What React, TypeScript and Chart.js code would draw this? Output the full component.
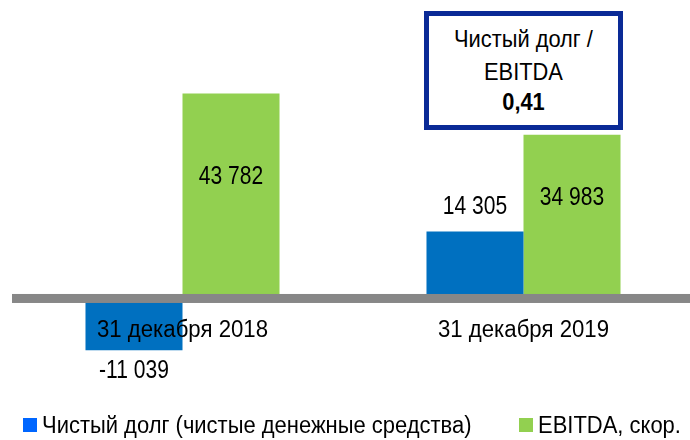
import React, { useEffect, useRef } from "react";
import { Chart, registerables } from "chart.js";

Chart.register(...registerables);

// ---- data ----
const categories = ["31 декабря 2018", "31 декабря 2019"];
const netDebt = [-11039, 14305];
const ebitda = [43782, 34983];
const seriesNames = ["Чистый долг (чистые денежные средства)", "EBITDA, скор."];
const ratioTitle = ["Чистый долг /", "EBITDA"];
const ratioValue = "0,41";

// ---- styles ----
const FONT = '"Liberation Sans", Arial, sans-serif';
const BLUE = "#0070C0";
const GREEN = "#92D050";
const LEGEND_BLUE = "#0066FF";
const GRAY = "#878787";
const NAVY = "#0A2A96";

// horizontal condensing factors for the narrow typeface
const VALUE_SX = 0.81;
const CAT_SX = 0.965;
const LEGEND_SX = 0.955;
const BOX_SX = 0.91;

// label offsets (px) from the bar end, per dataset / per point
const labelOffsets = [
  [21, -25],
  [83, 63],
];

const fmt = (v: number) => {
  const s = Math.abs(v)
    .toString()
    .replace(/\B(?=(\d{3})+(?!\d))/g, " ");
  return (v < 0 ? "-" : "") + s;
};

const drawText = (ctx: CanvasRenderingContext2D, text: string, x: number, y: number, sx: number) => {
  ctx.save();
  ctx.translate(x, y);
  ctx.scale(sx, 1);
  ctx.fillText(text, 0, 0);
  ctx.restore();
};

const overlayPlugin = {
  id: "overlay",
  afterDatasetsDraw(chart: any) {
    const { ctx, chartArea, scales } = chart;
    const x = scales.x;
    const y = scales.y;
    const y0 = y.getPixelForValue(0);
    ctx.save();
    // zero line band
    ctx.fillStyle = GRAY;
    ctx.fillRect(chartArea.left, y0 - 4.5, chart.width - chartArea.left, 9);
    ctx.fillStyle = "#000";
    ctx.textAlign = "center";
    ctx.textBaseline = "middle";
    // category labels
    ctx.font = `23px ${FONT}`;
    categories.forEach((c, i) => {
      drawText(ctx, c, x.getPixelForValue(i), y0 + 32.5, CAT_SX);
    });
    // value labels
    ctx.font = `26px ${FONT}`;
    chart.data.datasets.forEach((ds: any, di: number) => {
      const meta = chart.getDatasetMeta(di);
      meta.data.forEach((el: any, i: number) => {
        drawText(ctx, fmt(ds.data[i]), el.x, el.y + labelOffsets[di][i], VALUE_SX);
      });
    });
    ctx.restore();
  },
};

export default function App() {
  const ref = useRef<HTMLCanvasElement | null>(null);

  useEffect(() => {
    if (!ref.current) return;
    const chart = new Chart(ref.current, {
      type: "bar",
      data: {
        labels: categories,
        datasets: [
          { label: seriesNames[0], data: netDebt, backgroundColor: BLUE, borderWidth: 0 },
          { label: seriesNames[1], data: ebitda, backgroundColor: GREEN, borderWidth: 0 },
        ],
      },
      options: {
        responsive: false,
        animation: false,
        devicePixelRatio: 1,
        layout: { padding: { left: 12, right: 0, top: 17.6, bottom: 47.9 } },
        datasets: {
          bar: { categoryPercentage: 0.569, barPercentage: 1.0 },
        },
        scales: {
          x: { display: false },
          y: { display: false, min: -20000, max: 60000 },
        },
        plugins: {
          legend: { display: false },
          tooltip: { enabled: false },
        },
      },
      plugins: [overlayPlugin],
    });
    return () => chart.destroy();
  }, []);

  const legendText = (left: number): React.CSSProperties => ({
    position: "absolute",
    left,
    top: 411,
    fontFamily: FONT,
    fontSize: 23,
    lineHeight: "28px",
    color: "#000",
    whiteSpace: "nowrap",
    transform: `scaleX(${LEGEND_SX})`,
    transformOrigin: "left center",
  });
  const sq = (left: number, color: string): React.CSSProperties => ({
    position: "absolute",
    left,
    top: 418,
    width: 14,
    height: 14,
    background: color,
  });
  const boxLine = (top: number, bold = false): React.CSSProperties => ({
    position: "absolute",
    left: 0,
    right: 0,
    top,
    textAlign: "center",
    fontFamily: FONT,
    fontSize: 24,
    lineHeight: "30px",
    fontWeight: bold ? 700 : 400,
    color: "#000",
    whiteSpace: "nowrap",
    transform: `scaleX(${BOX_SX})`,
    transformOrigin: "center center",
  });

  return (
    <div
      style={{
        position: "fixed",
        left: 0,
        top: 0,
        width: 690,
        height: 440,
        overflow: "hidden",
        background: "#fff",
      }}
    >
      <canvas ref={ref} width={694} height={440} style={{ position: "absolute", left: 0, top: 0 }} />
      <div
        style={{
          position: "absolute",
          left: 424,
          top: 11,
          width: 199,
          height: 119,
          boxSizing: "border-box",
          border: `5px solid ${NAVY}`,
          background: "#fff",
        }}
      >
        <div style={boxLine(7.5)}>{ratioTitle[0]}</div>
        <div style={boxLine(41)}>{ratioTitle[1]}</div>
        <div style={boxLine(70.5, true)}>{ratioValue}</div>
      </div>
      <div style={sq(23, LEGEND_BLUE)} />
      <div style={legendText(42)}>{seriesNames[0]}</div>
      <div style={sq(519, GREEN)} />
      <div style={legendText(538)}>{seriesNames[1]}</div>
    </div>
  );
}
